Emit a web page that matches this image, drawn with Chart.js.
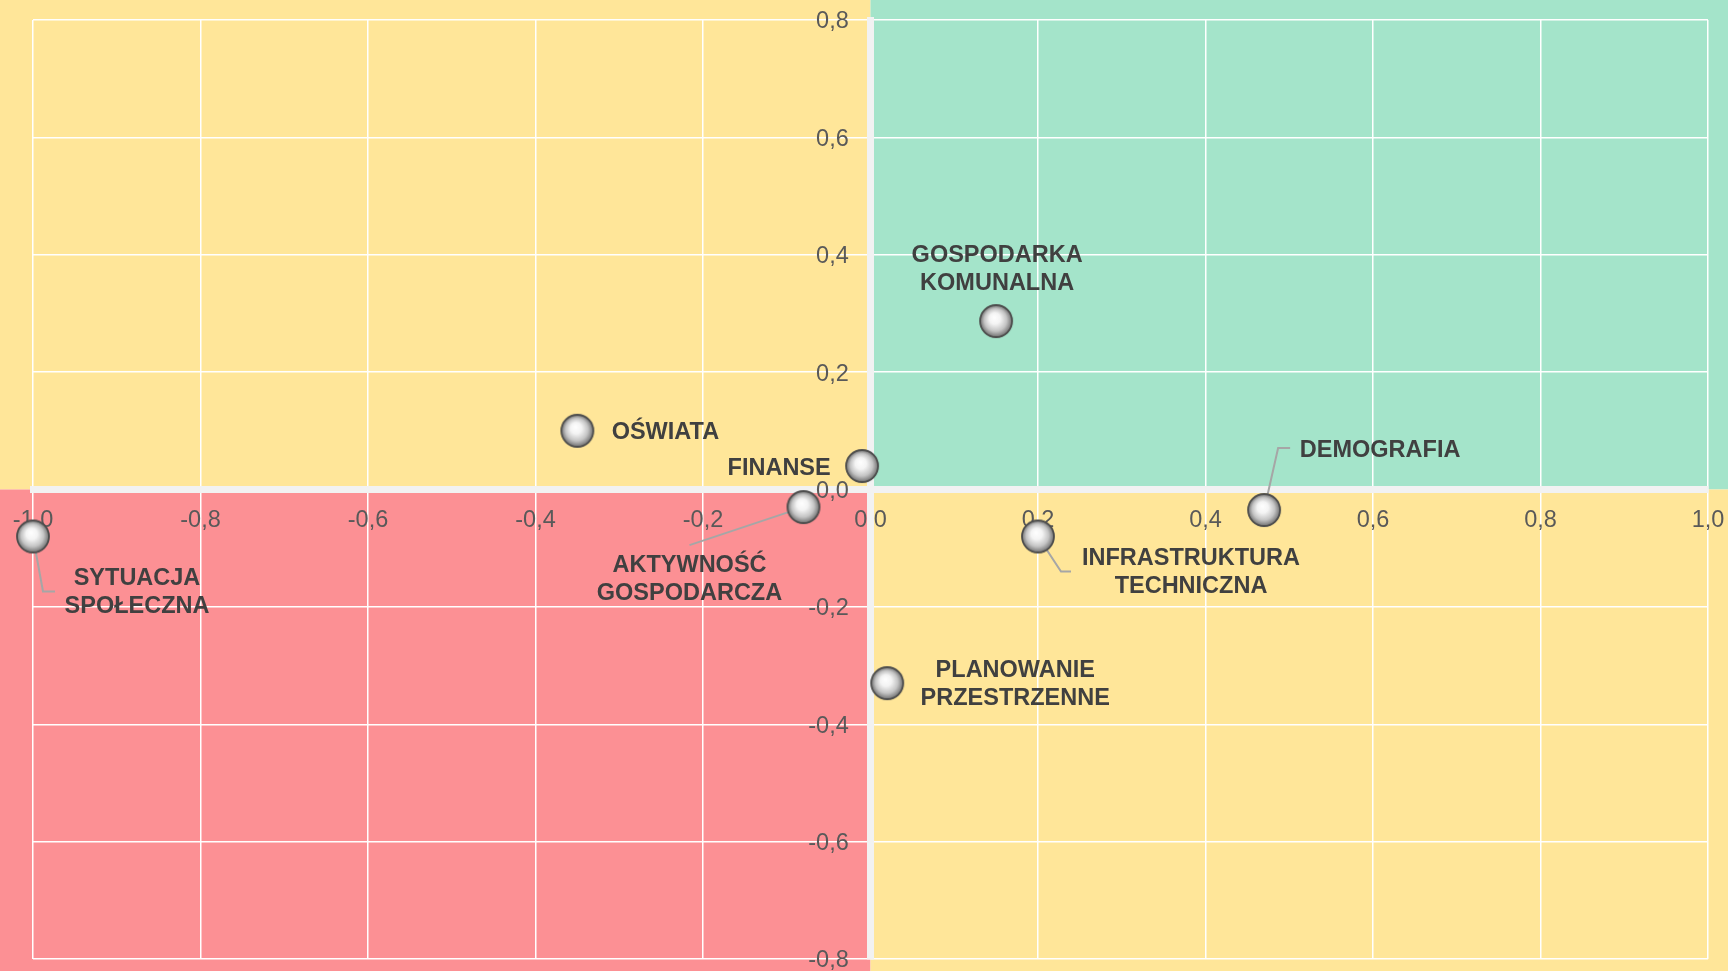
<!DOCTYPE html>
<html>
<head>
<meta charset="utf-8">
<script src="https://cdn.jsdelivr.net/npm/chart.js@4"></script>
<style>
  html, body { margin: 0; padding: 0; background: #fff; }
  #wrap { width: 1728px; height: 971px; position: relative; }
</style>
</head>
<body>
<div id="wrap"><canvas id="quadChart"></canvas></div>
<script>
// --- Data ---
const categories = [
  ["SYTUACJA", "SPOŁECZNA"],
  ["OŚWIATA"],
  ["FINANSE"],
  ["AKTYWNOŚĆ", "GOSPODARCZA"],
  ["GOSPODARKA", "KOMUNALNA"],
  ["DEMOGRAFIA"],
  ["INFRASTRUKTURA", "TECHNICZNA"],
  ["PLANOWANIE", "PRZESTRZENNE"]
];
const xValues = [-1.0, -0.35, -0.01, -0.08, 0.15, 0.47, 0.20, 0.02];
const yValues = [-0.08, 0.10, 0.04, -0.03, 0.287, -0.035, -0.08, -0.33];

const xTickValues = [-1.0, -0.8, -0.6, -0.4, -0.2, 0.0, 0.2, 0.4, 0.6, 0.8, 1.0];
const yTickValues = [-0.8, -0.6, -0.4, -0.2, 0.0, 0.2, 0.4, 0.6, 0.8];

// --- Label placement (pixel offsets from the point, plus leader lines) ---
const labelLayout = [
  { dx: 104, dy: 56, leader: [[0, 0], [10, 55], [22, 55]] },
  { dx: 88, dy: 2 },
  { dx: -83, dy: 2 },
  { dx: -114, dy: 72, leader: [[0, 0], [-114, 38]] },
  { dx: 1, dy: -52 },
  { dx: 116, dy: -60, leader: [[0, 0], [14, -62], [26, -62]] },
  { dx: 153, dy: 36, leader: [[0, 0], [23, 35], [33, 35]] },
  { dx: 128, dy: 1 }
];

const COLORS = {
  yellow: "#FFE699",
  green: "#A4E4CA",
  red: "#FC9094",
  axis: "#F2F2F2",
  tick: "#595959",
  label: "#404040",
  leader: "#A6A6A6"
};
const FONT = "'Liberation Sans', Arial, sans-serif";

const fmt = v => Number(v).toFixed(1).replace(".", ",");

// y tick labels sit a little left of the vertical axis line (in x data units)
const yLabelShift = -0.026;

// --- Sphere marker drawn once on an offscreen canvas ---
function makeSphere(r) {
  const c = document.createElement("canvas");
  const size = r * 2 + 4;
  c.width = size; c.height = size;
  const g = c.getContext("2d");
  const cx = size / 2, cy = size / 2;
  const grad = g.createRadialGradient(cx - 2, cy - 4, 0, cx, cy, r);
  grad.addColorStop(0, "#ffffff");
  grad.addColorStop(0.35, "#f4f4f4");
  grad.addColorStop(0.7, "#c4c4c4");
  grad.addColorStop(0.9, "#8c8c8c");
  grad.addColorStop(1, "#6a6a6a");
  g.beginPath();
  g.arc(cx, cy, r, 0, Math.PI * 2);
  g.fillStyle = grad;
  g.fill();
  g.lineWidth = 1.8;
  g.strokeStyle = "#4d4d4d";
  g.stroke();
  return c;
}
const sphere = makeSphere(16);

// --- Plugins ---
const quadrantBackground = {
  id: "quadrantBackground",
  beforeDraw(chart) {
    const { ctx, width, height, scales } = chart;
    const x0 = scales.x.getPixelForValue(0);
    const y0 = scales.y.getPixelForValue(0);
    ctx.save();
    ctx.fillStyle = COLORS.yellow;
    ctx.fillRect(0, 0, x0, y0);
    ctx.fillStyle = COLORS.green;
    ctx.fillRect(x0, 0, width - x0, y0);
    ctx.fillStyle = COLORS.red;
    ctx.fillRect(0, y0, x0, height - y0);
    ctx.fillStyle = COLORS.yellow;
    ctx.fillRect(x0, y0, width - x0, height - y0);
    ctx.restore();
  }
};

const pointLabels = {
  id: "pointLabels",
  // leader lines go under the markers
  beforeDatasetsDraw(chart) {
    const { ctx } = chart;
    const points = chart.getDatasetMeta(0).data;
    ctx.save();
    ctx.strokeStyle = COLORS.leader;
    ctx.lineWidth = 2;
    points.forEach((pt, i) => {
      const lay = labelLayout[i];
      if (!lay.leader) return;
      ctx.beginPath();
      lay.leader.forEach(([dx, dy], k) => {
        if (k === 0) ctx.moveTo(pt.x + dx, pt.y + dy);
        else ctx.lineTo(pt.x + dx, pt.y + dy);
      });
      ctx.stroke();
    });
    ctx.restore();
  },
  afterDatasetsDraw(chart) {
    const { ctx } = chart;
    const points = chart.getDatasetMeta(0).data;
    ctx.save();
    ctx.font = "bold 23.5px " + FONT;
    ctx.fillStyle = COLORS.label;
    ctx.textAlign = "center";
    ctx.textBaseline = "middle";
    const lineH = 28;
    points.forEach((pt, i) => {
      const lines = categories[i];
      const lay = labelLayout[i];
      const cx = pt.x + lay.dx;
      const top = pt.y + lay.dy - (lines.length - 1) * lineH / 2;
      lines.forEach((txt, k) => ctx.fillText(txt, cx, top + k * lineH));
    });
    ctx.restore();
  }
};

// --- Chart ---
const ctx = document.getElementById("quadChart").getContext("2d");
const chart = new Chart(ctx, {
  type: "scatter",
  data: {
    datasets: [{
      label: "Obszary",
      data: xValues.map((x, i) => ({ x, y: yValues[i] })),
      pointStyle: sphere,
      pointRadius: 2,          // image sets the visible size; keep layout overflow small
      pointHoverRadius: 2,
      pointBorderWidth: 0,
      clip: false
    }]
  },
  options: {
    responsive: true,
    maintainAspectRatio: false,
    animation: false,
    events: [],
    layout: { padding: { left: 33, right: 20, top: 20, bottom: 12 } },
    plugins: {
      legend: { display: false },
      tooltip: { enabled: false }
    },
    scales: {
      x: {
        type: "linear",
        min: -1,
        max: 1,
        position: { y: 0 },
        afterBuildTicks: scale => { scale.ticks = xTickValues.map(v => ({ value: v })); },
        grid: {
          color: "#ffffff",
          lineWidth: 1.5,
          drawTicks: true,
          tickLength: 17,
          tickColor: "rgba(0,0,0,0)"
        },
        border: { display: true, color: COLORS.axis, width: 7 },
        ticks: {
          color: COLORS.tick,
          font: { family: FONT, size: 23.5 },
          padding: 0,
          maxRotation: 0,
          autoSkip: false,
          callback: v => fmt(v)
        }
      },
      y: {
        type: "linear",
        min: -0.8,
        max: 0.8,
        position: { x: 0 },
        afterBuildTicks: scale => { scale.ticks = yTickValues.map(v => ({ value: v })); },
        grid: {
          color: c => (c.tick && c.tick.value === 0 ? "rgba(0,0,0,0)" : "#ffffff"),
          lineWidth: 1.5,
          drawTicks: false
        },
        border: { display: true, color: COLORS.axis, width: 7 },
        ticks: { display: false }
      },
      // carries the y tick labels, set just left of the axis line
      yLabels: {
        type: "linear",
        axis: "y",
        min: -0.8,
        max: 0.8,
        position: { x: yLabelShift },
        afterBuildTicks: scale => { scale.ticks = yTickValues.map(v => ({ value: v })); },
        grid: { display: false, drawTicks: false },
        border: { display: false },
        ticks: {
          color: COLORS.tick,
          font: { family: FONT, size: 23.5, lineHeight: 1 },
          padding: 0,
          labelOffset: 2,
          autoSkip: false,
          callback: v => fmt(v)
        }
      }
    }
  },
  plugins: [quadrantBackground, pointLabels]
});
</script>
</body>
</html>
